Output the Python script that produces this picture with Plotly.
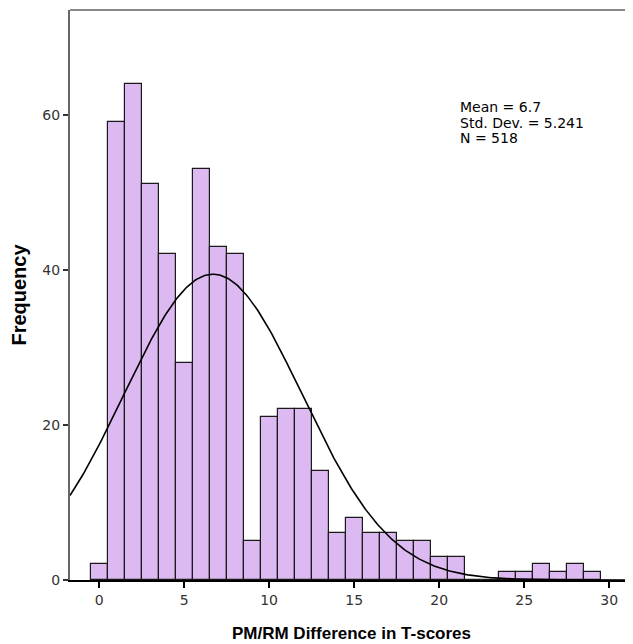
import numpy as np
import plotly.graph_objects as go

# Histogram bins (centers) and frequencies
bin_centers = list(range(0, 30))
frequencies = [2, 59, 64, 51, 42, 28, 53, 43, 42, 5,
               21, 22, 22, 14, 6, 8, 6, 6, 5, 5,
               3, 3, 0, 0, 1, 1, 2, 1, 2, 1]
x_ticks = [0, 5, 10, 15, 20, 25, 30]
y_ticks = [0, 20, 40, 60]

stat_mean = 6.7
stat_sd = 5.241
stat_n = 518
bin_width = 1.0
stat_lines = [f"Mean = {stat_mean}", f"Std. Dev. = {stat_sd}", f"N = {stat_n}"]

x_range = [-1.71, 31.4]
y_range = [0, 73.5]

# Normal curve overlay from reported stats
cx = np.linspace(x_range[0], x_range[1], 400)
cy = stat_n * bin_width / (stat_sd * np.sqrt(2 * np.pi)) * np.exp(-0.5 * ((cx - stat_mean) / stat_sd) ** 2)

fig = go.Figure()
fig.add_trace(go.Bar(
    x=bin_centers, y=frequencies, width=bin_width,
    marker=dict(color="#DDB9F1", line=dict(color="#1a1a1a", width=1.2)),
    showlegend=False,
))
fig.add_trace(go.Scatter(
    x=cx, y=cy, mode="lines",
    line=dict(color="black", width=1.6),
    showlegend=False,
))

annots = []
for i, txt in enumerate(stat_lines):
    annots.append(dict(
        xref="paper", yref="paper", x=0.689, y=0.8298 - i * 0.0272,
        xanchor="left", yanchor="middle", align="left", showarrow=False,
        text=txt, font=dict(family="DejaVu Sans", size=14, color="black"),
    ))

fig.update_layout(
    width=625, height=636,
    margin=dict(l=62, r=0, t=2, b=64),
    paper_bgcolor="white", plot_bgcolor="white",
    bargap=0,
    font=dict(family="DejaVu Sans", size=14, color="#333333"),
    xaxis=dict(
        range=x_range, tickvals=x_ticks, ticks="outside", ticklen=6,
        tickcolor="black", tickwidth=1.5,
        showline=True, linecolor="black", linewidth=1.5,
        showgrid=False, zeroline=False, automargin=False,
        tickfont=dict(family="DejaVu Sans", size=14, color="#333333"),
        title=dict(text="PM/RM Difference in T-scores",
                   font=dict(family="Liberation Sans", size=17, color="black", weight="bold"),
                   standoff=21),
    ),
    yaxis=dict(
        range=y_range, tickvals=y_ticks, ticks="outside", ticklen=5,
        tickcolor="#333333", tickwidth=1.5,
        showline=True, linecolor="#666666", linewidth=2,
        showgrid=False, zeroline=False, automargin=False,
        tickfont=dict(family="DejaVu Sans", size=14, color="#333333"),
        title=dict(text="Frequency",
                   font=dict(family="Liberation Sans", size=20, color="black", weight="bold"),
                   standoff=12),
    ),
    shapes=[dict(type="line", xref="paper", yref="paper", x0=0, x1=1, y0=1, y1=1,
                 line=dict(color="#888888", width=2))],
    annotations=annots,
)

fig.write_html("out.html")
